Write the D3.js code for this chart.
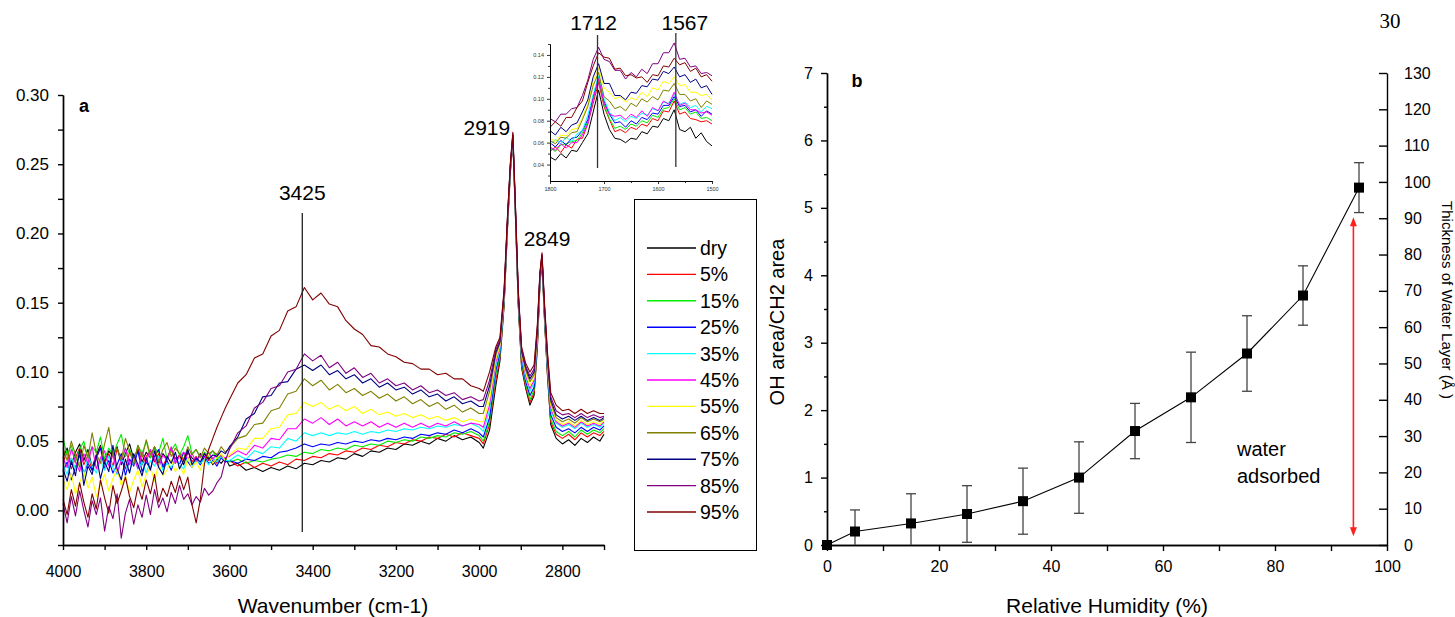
<!DOCTYPE html>
<html>
<head>
<meta charset="utf-8">
<script src="https://cdn.jsdelivr.net/npm/d3@7"></script>
<style>
body { margin: 0; background: #fff; }
svg { display: block; font-family: "Liberation Sans", Arial, Helvetica, sans-serif; }
</style>
</head>
<body>
<svg id="chart" width="1455" height="617"></svg>
<script>
// ---- panel a: IR spectra (absorbance in units of 0.001) ----
var wavenumbers = [4000,3990,3980,3970,3960,3950,3940,3930,3920,3910,
    3900,3890,3880,3870,3860,3850,3840,3830,3820,3810,
    3800,3790,3780,3770,3760,3750,3740,3730,3720,3710,
    3700,3690,3680,3670,3660,3650,3640,3630,3620,3610,
    3600,
    3580,3560,3540,3520,3500,3480,3460,3440,3420,
    3400,3380,3360,3340,3320,3300,3280,3260,3240,3220,
    3200,3180,3160,3140,3120,3100,3080,3060,3040,3020,
    3000,
    2990,2975,2960,2950,2940,2932,2925,2919,2913,2906,
    2898,2888,2878,2868,2860,2854,2849,2843,2836,2828,
    2815,2800,2785,2770,2755,2740,2725,2710,2700];

var dry  = [38,45,33,42,48,36,44,31,40,47, 35,43,39,46,33,41,48,37,44,35, 42,38,46,34,41,37,45,36,40,33, 42,38,35,41,36,39,33,37,34,38, 32,
    34,29,31,28,31,29,32,30,34, 33,36,35,38,37,41,39,43,42,45, 44,48,47,50,48,52,50,54,51,53, 49,
    45,58,90,108,148,203,244,267,214,148, 103,88,76,83,118,163,180,138,98,62, 52,48,51,47,52,49,53,50,55];
var rh5  = [35,42,30,38,45,33,40,29,37,46, 34,41,32,44,38,30,42,36,45,33, 39,43,35,41,32,38,44,34,40,36, 43,35,39,33,41,36,38,34,40,35, 36,
    32,35,31,34,32,35,33,37,36, 39,38,41,40,43,42,45,44,47,46, 49,48,51,50,53,52,55,53,56,54, 52,
    48,62,94,110,149,204,245,268,215,149, 104,89,78,85,119,164,181,139,99,64, 55,52,55,51,56,53,56,54,57];
var rh15 = [52,40,47,35,44,50,38,46,42,53, 37,45,40,48,55,39,44,36,47,41, 50,38,45,42,52,37,43,48,40,46, 54,41,44,38,42,39,43,37,40,36, 35,
    37,34,36,35,37,38,40,39,42, 41,44,43,45,44,47,46,48,47,50, 49,51,50,53,52,54,53,56,55,57, 54,
    50,64,98,112,150,205,246,269,216,150, 106,91,80,87,121,165,182,140,100,66, 57,54,57,53,58,55,58,56,59];
var rh25 = [28,35,22,31,40,26,34,29,38,45, 30,36,27,33,41,25,37,32,43,28, 35,30,39,44,31,36,29,38,33,42, 35,31,37,33,39,34,36,32,38,35, 36,
    34,37,36,39,38,42,43,45,48, 46,48,47,49,48,50,49,51,50,52, 51,53,52,55,54,56,55,58,56,59, 56,
    53,67,101,114,152,206,247,269,217,152, 108,93,83,89,123,166,182,142,102,69, 60,57,59,56,60,57,60,58,61];
var rh35 = [33,26,38,30,35,24,40,32,27,36, 29,39,31,26,37,33,28,38,30,35, 27,36,32,39,29,34,31,37,33,30, 38,32,36,34,37,33,38,35,39,36, 36,
    40,37,43,41,46,45,52,50,56, 54,56,54,56,55,57,55,57,56,58, 57,59,58,60,59,61,60,62,61,63, 60,
    57,72,104,116,153,207,247,270,217,153, 110,95,86,92,125,167,183,143,104,72, 63,60,62,59,63,60,62,60,63];
var rh45 = [38,31,44,35,28,41,34,46,30,38, 43,32,40,27,36,45,33,39,30,42, 35,44,37,31,40,36,46,34,39,42, 37,41,35,40,38,42,37,41,39,38, 39,
    43,40,47,45,52,51,59,59,66, 63,67,62,66,61,64,61,64,60,63, 60,63,60,63,60,63,61,64,61,63, 62,
    60,76,107,118,154,208,248,270,218,154, 112,97,88,94,126,168,183,144,106,74, 64,61,63,60,64,61,63,61,64];
var rh55 = [22,15,27,12,20,28,16,24,10,19, 26,14,23,30,18,25,13,22,29,17, 26,31,21,34,25,29,37,28,33,26, 38,31,35,29,36,40,34,38,41,36, 40,
    45,44,52,52,59,60,69,70,78, 75,78,73,76,72,75,70,73,69,71, 68,70,67,69,66,68,65,67,64,66, 64,
    64,80,109,119,155,208,248,270,218,155, 113,99,90,96,127,169,184,145,107,76, 65,62,64,61,65,62,64,62,65];
var rh65 = [45,36,50,40,31,47,38,56,41,34, 48,60,39,45,36,52,43,33,47,38, 51,40,46,35,44,49,39,45,41,37, 46,40,44,38,45,41,43,40,46,42, 45,
    52,54,62,63,72,74,84,86,95, 90,94,87,91,85,88,83,86,81,84, 79,82,77,80,75,78,73,76,71,74, 70,
    70,86,112,121,156,209,249,271,219,156, 114,101,93,98,129,170,184,146,109,78, 67,64,66,63,67,64,66,64,66];
var rh75 = [30,21,36,25,44,18,32,26,40,23, 35,28,47,30,22,37,27,41,33,25, 38,29,43,31,26,39,34,42,30,36, 44,33,38,35,41,37,40,39,43,41, 46,
    53,66,70,82,83,92,93,102,105, 101,105,98,101,95,98,92,95,89,92, 87,89,84,87,82,84,79,82,77,79, 75,
    75,90,114,122,157,210,249,271,220,157, 115,103,95,100,131,170,184,147,111,80, 69,66,68,65,68,65,67,65,67];
var rh85 = [5,-9,10,-4,14,0,-12,7,-3,9, -15,3,-6,12,-20,-2,8,-10,4,-5, 11,-3,15,2,9,-1,13,5,18,8, 12,4,10,6,16,11,14,20,24,36, 44,
    56,61,74,78,88,90,100,102,113, 108,112,103,107,99,103,96,99,92,95, 90,92,87,90,85,87,83,85,80,82, 79,
    80,94,116,123,158,211,250,272,221,158, 116,104,97,102,133,171,185,148,113,82, 72,69,70,67,70,67,69,67,68];
var rh95 = [8,-3,15,3,20,6,-5,12,1,22, 9,-2,18,5,14,24,10,2,17,8, 22,12,26,6,16,10,21,13,25,15, 24,4,-9,8,34,44,52,60,67,74, 80,
    92,98,110,113,126,130,144,147,161, 152,157,149,147,137,131,127,119,118,113, 111,107,106,102,102,98,99,95,95,90, 88,
    86,100,118,125,160,212,251,273,222,159, 118,106,100,105,135,172,186,150,115,85, 76,72,73,70,73,70,72,70,70];

var seriesNames = ["dry","5%","15%","25%","35%","45%","55%","65%","75%","85%","95%"];
var seriesColors = ["#000000","#ff0000","#00ee00","#0000ff","#00ffff","#ff00ff","#ffff00","#808000","#000080","#800080","#800000"];
var spectra = [dry, rh5, rh15, rh25, rh35, rh45, rh55, rh65, rh75, rh85, rh95];
var peaksMain = [3425, 2919, 2849];

// ---- inset: 1800-1500 cm-1 ----
var insetWavenumbers = [1800,1790,1780,1770,1760,1750,1740,1730,1720,1710,1700,1690,1680,1670,1660,1650,
    1640,1630,1620,1610,1600,1590,1580,1570,1560,1550,1540,1530,1520,1510,1500];
var insetDry  = [47,44,50,46,53,52,60,68,88,108,86,72,64,63,60,64,63,70,68,75,74,82,80,90,72,70,74,64,69,61,57];
var insetRh5  = [52,56,51,58,55,63,64,77,96,115,93,81,70,72,69,74,72,77,75,82,80,89,88,98,86,88,82,81,79,80,77];
var insetRh15 = [55,52,58,59,61,62,69,79,100,118,95,82,73,75,72,77,75,80,78,85,83,91,92,100,90,92,86,88,82,83,80];
var insetRh25 = [60,56,62,58,64,65,71,81,102,120,98,86,78,79,74,80,77,83,81,87,86,94,94,102,93,94,88,90,84,89,86];
var insetRh35 = [58,63,59,65,61,68,71,85,104,121,100,88,80,83,79,84,82,87,85,91,89,97,96,104,95,97,92,94,88,93,91];
var insetRh45 = [56,53,59,55,60,60,67,77,100,118,96,86,84,85,81,86,83,89,84,92,89,98,95,106,94,96,90,90,87,88,85];
var insetRh55 = [64,61,67,66,72,73,83,95,116,128,110,106,100,102,97,101,99,106,102,110,108,116,114,120,112,113,106,106,103,104,99];
var insetRh65 = [62,59,65,64,69,70,81,93,112,124,102,98,91,93,89,96,93,100,97,102,99,108,107,114,104,104,98,100,92,98,95];
var insetRh75 = [71,67,74,70,76,78,88,99,120,132,114,114,103,103,99,106,105,112,111,118,117,125,123,129,120,122,115,118,110,112,104];
var insetRh85 = [82,79,86,86,91,92,103,117,136,147,136,134,126,126,118,124,120,127,123,132,132,142,142,151,136,137,129,130,123,124,121];
var insetRh95 = [74,79,75,83,83,92,98,115,130,142,138,137,127,128,121,122,119,120,115,122,121,130,129,137,131,133,125,128,120,122,116];
var insetSpectra = [insetDry, insetRh5, insetRh15, insetRh25, insetRh35, insetRh45, insetRh55, insetRh65, insetRh75, insetRh85, insetRh95];
var peaksInset = [1712, 1567];

// ---- panel b: OH/CH2 area ratio vs humidity ----
var humidity = [0, 5, 15, 25, 35, 45, 55, 65, 75, 85, 95];
var areaRatio = [0, 0.20, 0.32, 0.46, 0.65, 1.00, 1.69, 2.19, 2.84, 3.70, 5.30];
var ratioError = [0, 0.32, 0.44, 0.42, 0.49, 0.53, 0.41, 0.67, 0.56, 0.44, 0.37];

var svg = d3.select('#chart');
var FONT = '"Liberation Sans", Arial, Helvetica, sans-serif';

function styleAxis(g, fontSize) {
    g.attr('font-family', null).attr('font-size', null);
    g.select('.domain').attr('stroke', '#000').attr('stroke-width', 1.4);
    g.selectAll('.tick line').attr('stroke', '#000').attr('stroke-width', 1.4);
    g.selectAll('.tick text').attr('fill', '#000')
        .style('font-family', FONT).style('font-size', fontSize + 'px');
}

// ================= panel a =================
var xA = d3.scaleLinear().domain([4000, 2700]).range([63, 604]);
var yA = d3.scaleLinear().domain([-0.025, 0.30]).range([545, 95]);

var lineA = d3.line()
    .x(function(d, i) { return xA(wavenumbers[i]); })
    .y(function(d) { return yA(d / 1000); });

svg.append('g').selectAll('path')
    .data(spectra)
    .join('path')
    .attr('d', lineA)
    .attr('fill', 'none')
    .attr('stroke', function(d, i) { return seriesColors[i]; })
    .attr('stroke-width', 1.1)
    .attr('stroke-linejoin', 'round');

// peak markers
svg.append('line')
    .attr('x1', xA(peaksMain[0])).attr('x2', xA(peaksMain[0]))
    .attr('y1', 213).attr('y2', 532)
    .attr('stroke', '#222').attr('stroke-width', 1.3);
svg.append('text').attr('x', xA(peaksMain[0])).attr('y', 200)
    .attr('text-anchor', 'middle').style('font-size', '21px').text(peaksMain[0]);
svg.append('text').attr('x', xA(peaksMain[1]) - 26).attr('y', 135)
    .attr('text-anchor', 'middle').style('font-size', '21px').text(peaksMain[1]);
svg.append('text').attr('x', xA(peaksMain[2]) + 5).attr('y', 246)
    .attr('text-anchor', 'middle').style('font-size', '21px').text(peaksMain[2]);

// axes
var gAy = svg.append('g').attr('transform', 'translate(63,0)')
    .call(d3.axisLeft(yA).tickValues([0, 0.05, 0.10, 0.15, 0.20, 0.25, 0.30])
        .tickFormat(d3.format('.2f')).tickSize(5).tickPadding(9).tickSizeOuter(0));
styleAxis(gAy, 17);
var gAyMinor = svg.append('g').attr('transform', 'translate(63,0)')
    .call(d3.axisLeft(yA).tickValues([-0.025, 0.025, 0.075, 0.125, 0.175, 0.225, 0.275])
        .tickFormat('').tickSize(5).tickSizeOuter(0));
styleAxis(gAyMinor, 17);

var gAx = svg.append('g').attr('transform', 'translate(0,545)')
    .call(d3.axisBottom(xA).tickValues([4000, 3800, 3600, 3400, 3200, 3000, 2800])
        .tickFormat(d3.format('d')).tickSize(5).tickPadding(16).tickSizeOuter(0));
styleAxis(gAx, 16);
var gAxMinor = svg.append('g').attr('transform', 'translate(0,545)')
    .call(d3.axisBottom(xA).tickValues([3900, 3700, 3500, 3300, 3100, 2900, 2700])
        .tickFormat('').tickSize(5).tickSizeOuter(0));
styleAxis(gAxMinor, 16);

svg.append('text').attr('x', 333).attr('y', 613).attr('text-anchor', 'middle')
    .style('font-size', '21px').text('Wavenumber (cm-1)');
svg.append('text').attr('x', 84).attr('y', 112).attr('text-anchor', 'middle')
    .style('font-size', '18px').style('font-weight', 'bold').text('a');

// legend
var legend = svg.append('g');
legend.append('rect').attr('x', 634.5).attr('y', 199.5).attr('width', 122).attr('height', 351)
    .attr('fill', '#fff').attr('stroke', '#000').attr('stroke-width', 1);
seriesNames.forEach(function(name, i) {
    var y = 248 + i * 26.4;
    legend.append('line').attr('x1', 647).attr('x2', 696).attr('y1', y).attr('y2', y)
        .attr('stroke', seriesColors[i]).attr('stroke-width', 1.4);
    legend.append('text').attr('x', 700).attr('y', y + 7)
        .style('font-size', '19.5px').text(name);
});

// ================= inset =================
var xI = d3.scaleLinear().domain([1800, 1500]).range([550, 712]);
var yI = d3.scaleLinear().domain([0.025, 0.15]).range([181, 44]);
var lineI = d3.line()
    .x(function(d, i) { return xI(insetWavenumbers[i]); })
    .y(function(d) { return yI(d / 1000); });

svg.append('g').selectAll('path')
    .data(insetSpectra)
    .join('path')
    .attr('d', lineI)
    .attr('fill', 'none')
    .attr('stroke', function(d, i) { return seriesColors[i]; })
    .attr('stroke-width', 1)
    .attr('stroke-linejoin', 'round');

var gIy = svg.append('g').attr('transform', 'translate(550,0)')
    .call(d3.axisLeft(yI).tickValues([0.04, 0.06, 0.08, 0.10, 0.12, 0.14])
        .tickFormat(d3.format('.2f')).tickSize(3).tickPadding(3).tickSizeOuter(0));
styleAxis(gIy, 5.5);
var gIyMinor = svg.append('g').attr('transform', 'translate(550,0)')
    .call(d3.axisLeft(yI).tickValues([0.03, 0.05, 0.07, 0.09, 0.11, 0.13, 0.15])
        .tickFormat('').tickSize(2).tickSizeOuter(0));
styleAxis(gIyMinor, 5.5);
var gIx = svg.append('g').attr('transform', 'translate(0,181)')
    .call(d3.axisBottom(xI).tickValues([1800, 1700, 1600, 1500])
        .tickFormat(d3.format('d')).tickSize(3).tickPadding(3).tickSizeOuter(0));
styleAxis(gIx, 5.5);
var gIxMinor = svg.append('g').attr('transform', 'translate(0,181)')
    .call(d3.axisBottom(xI).tickValues([1750, 1650, 1550])
        .tickFormat('').tickSize(2).tickSizeOuter(0));
styleAxis(gIxMinor, 5.5);
[gIy, gIyMinor, gIx, gIxMinor].forEach(function(g) {
    g.select('.domain').attr('stroke-width', 1);
    g.selectAll('.tick line').attr('stroke-width', 0.8);
    g.selectAll('.tick text').attr('fill', '#333');
});

svg.append('line').attr('x1', xI(peaksInset[0])).attr('x2', xI(peaksInset[0]))
    .attr('y1', 35).attr('y2', 168).attr('stroke', '#333').attr('stroke-width', 1.3);
svg.append('line').attr('x1', xI(peaksInset[1])).attr('x2', xI(peaksInset[1]))
    .attr('y1', 33).attr('y2', 167).attr('stroke', '#333').attr('stroke-width', 1.3);
svg.append('text').attr('x', xI(peaksInset[0]) - 4).attr('y', 30)
    .attr('text-anchor', 'middle').style('font-size', '21px').text(peaksInset[0]);
svg.append('text').attr('x', xI(peaksInset[1]) + 9).attr('y', 30)
    .attr('text-anchor', 'middle').style('font-size', '21px').text(peaksInset[1]);

// ================= panel b =================
var xB = d3.scaleLinear().domain([0, 100]).range([827, 1387]);
var yB = d3.scaleLinear().domain([0, 7]).range([545, 73]);
var yB2 = d3.scaleLinear().domain([0, 130]).range([545, 73]);

var gBy = svg.append('g').attr('transform', 'translate(827,0)')
    .call(d3.axisLeft(yB).tickValues([0, 1, 2, 3, 4, 5, 6, 7])
        .tickFormat(d3.format('d')).tickSize(6).tickPadding(8).tickSizeOuter(0));
styleAxis(gBy, 16);
var gByMinor = svg.append('g').attr('transform', 'translate(827,0)')
    .call(d3.axisLeft(yB).tickValues([0.5, 1.5, 2.5, 3.5, 4.5, 5.5, 6.5])
        .tickFormat('').tickSize(3).tickSizeOuter(0));
styleAxis(gByMinor, 16);

var gBy2 = svg.append('g').attr('transform', 'translate(1387,0)')
    .call(d3.axisRight(yB2).tickValues(d3.range(0, 131, 10))
        .tickSize(-8).tickPadding(17).tickSizeOuter(0));
styleAxis(gBy2, 16);

var gBx = svg.append('g').attr('transform', 'translate(0,545)')
    .call(d3.axisBottom(xB).tickValues([0, 20, 40, 60, 80, 100])
        .tickSize(6).tickPadding(10).tickSizeOuter(0));
styleAxis(gBx, 16);
var gBxMinor = svg.append('g').attr('transform', 'translate(0,545)')
    .call(d3.axisBottom(xB).tickValues([10, 30, 50, 70, 90])
        .tickFormat('').tickSize(6).tickSizeOuter(0));
styleAxis(gBxMinor, 16);

svg.append('text').attr('x', 1107).attr('y', 613).attr('text-anchor', 'middle')
    .style('font-size', '21px').text('Relative Humidity (%)');
svg.append('text').attr('transform', 'translate(784,322) rotate(-90)')
    .attr('text-anchor', 'middle').style('font-size', '20px').text('OH area/CH2 area');
svg.append('text').attr('transform', 'translate(1442,300) rotate(90)')
    .attr('text-anchor', 'middle').style('font-size', '15px').text('Thickness of Water Layer (Å )');
svg.append('text').attr('x', 857).attr('y', 87).attr('text-anchor', 'middle')
    .style('font-size', '18px').style('font-weight', 'bold').text('b');
svg.append('text').attr('x', 1390).attr('y', 28).attr('text-anchor', 'middle')
    .style('font-family', '"Liberation Serif", "Times New Roman", serif')
    .style('font-size', '21px').text('30');

// error bars
var pts = humidity.map(function(h, i) {
    return {x: h, y: areaRatio[i], e: ratioError[i]};
});
var eb = svg.append('g').attr('stroke', '#444').attr('stroke-width', 1.3);
pts.forEach(function(p) {
    if (p.e <= 0) return;
    var lo = Math.max(0, p.y - p.e), hi = p.y + p.e;
    var cx = xB(p.x);
    eb.append('line').attr('x1', cx).attr('x2', cx).attr('y1', yB(lo)).attr('y2', yB(hi));
    eb.append('line').attr('x1', cx - 5).attr('x2', cx + 5).attr('y1', yB(hi)).attr('y2', yB(hi));
    if (p.y - p.e > 0) {
        eb.append('line').attr('x1', cx - 5).attr('x2', cx + 5).attr('y1', yB(lo)).attr('y2', yB(lo));
    }
});

svg.append('path')
    .datum(pts)
    .attr('d', d3.line().x(function(d) { return xB(d.x); }).y(function(d) { return yB(d.y); }))
    .attr('fill', 'none').attr('stroke', '#000').attr('stroke-width', 1.1);

svg.append('g').selectAll('rect')
    .data(pts)
    .join('rect')
    .attr('x', function(d) { return xB(d.x) - 5; })
    .attr('y', function(d) { return yB(d.y) - 5; })
    .attr('width', 10).attr('height', 10)
    .attr('fill', '#000');

// water adsorbed arrow
var arrowX = xB(94), arrowTop = yB(4.86), arrowBottom = yB(0.13);
svg.append('line').attr('x1', arrowX).attr('x2', arrowX)
    .attr('y1', arrowTop + 6).attr('y2', arrowBottom - 6)
    .attr('stroke', '#ff2020').attr('stroke-width', 1.6);
svg.append('path')
    .attr('d', 'M' + arrowX + ',' + arrowTop + 'l-3.5,9h7z')
    .attr('fill', '#ff2020');
svg.append('path')
    .attr('d', 'M' + arrowX + ',' + arrowBottom + 'l-3.5,-9h7z')
    .attr('fill', '#ff2020');
svg.append('text').attr('x', 1237).attr('y', 456).style('font-size', '20px').text('water');
svg.append('text').attr('x', 1237).attr('y', 483).style('font-size', '20px').text('adsorbed');
</script>
</body>
</html>
